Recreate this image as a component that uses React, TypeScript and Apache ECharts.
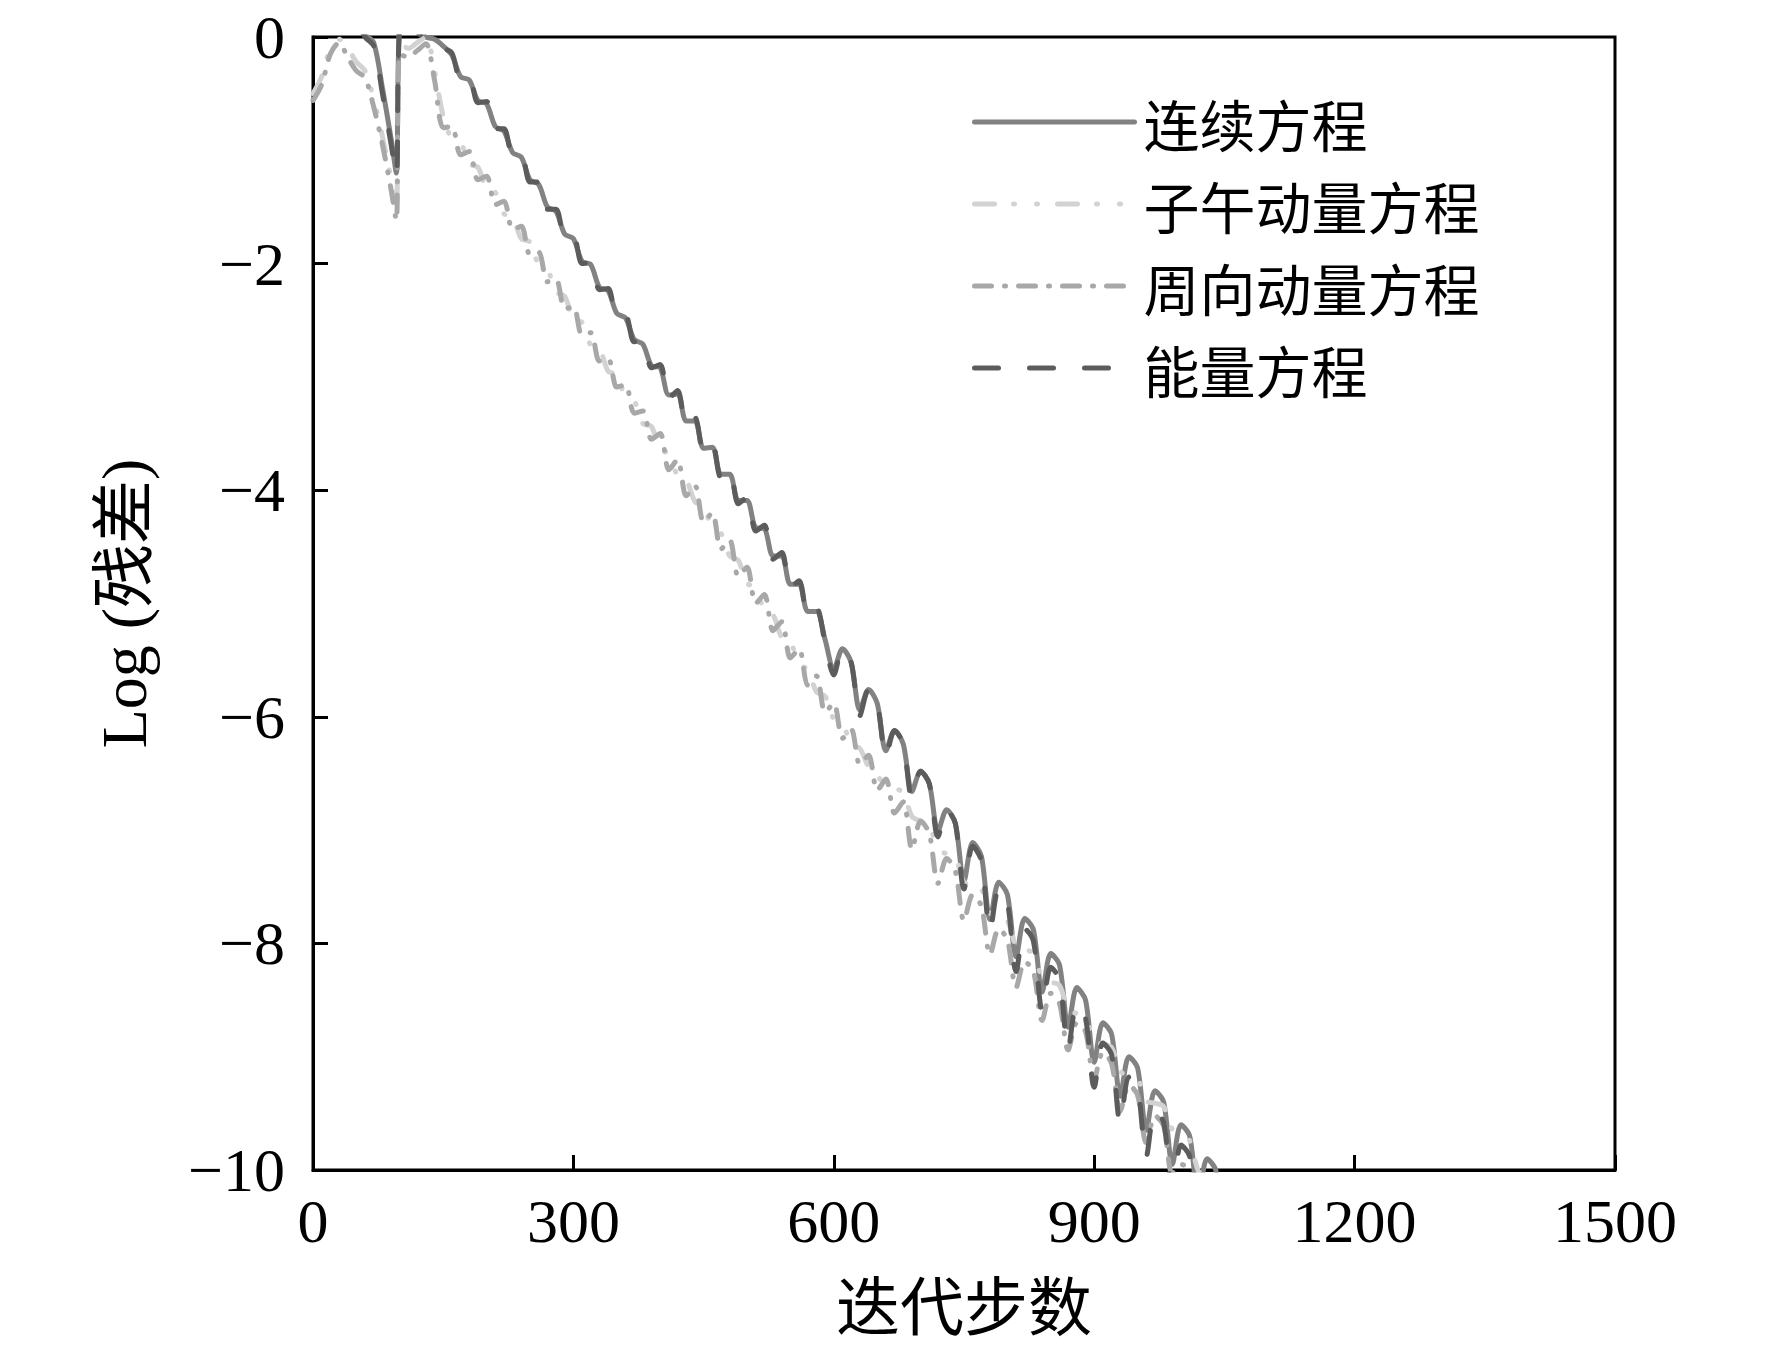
import React, { useEffect, useRef } from "react";
import * as echarts from "echarts";

const NAMES = ["连续方程", "子午动量方程", "周向动量方程", "能量方程"];
const COLORS = ["#828282", "#d2d2d2", "#a8a8a8", "#5c5c5c"];
const X_TICKS_MAX = 1500;

const ITER = [
  0, 10, 20, 30, 40, 50, 60, 70, 80, 90, 96,
  100, 110, 120, 130, 140, 150,
  160, 170, 180, 190, 200, 210, 220, 230, 240, 250,
  260, 270, 280, 290, 300, 310, 320, 330, 340, 350,
  360, 370, 380, 390, 400, 410, 420, 430, 440, 450,
  460, 470, 480, 490, 500, 510, 520, 530, 540, 550,
  560, 570, 580, 590, 600, 610, 620, 630, 640, 650,
  660, 670, 680, 690, 700, 710, 720, 730, 740, 750,
  760, 770, 780, 790, 800, 810, 820, 830, 840, 850,
  860, 870, 880, 890, 900, 910, 920, 930, 940, 950,
  960, 970, 980, 990, 1000, 1010, 1020, 1030, 1040, 1050,
  1060,
];

const CONT = [
  0.3, 0.05, 0.25, 0.35, 0.3, 0.15, 0.02, -0.05, -0.45, -0.9, -1.2,
  0.15, 0.3, 0.1, 0.0, -0.02, -0.08,
  -0.16, -0.35, -0.38, -0.56, -0.59, -0.79, -0.83, -1.02, -1.06, -1.26,
  -1.3, -1.5, -1.54, -1.74, -1.78, -1.98, -2.01, -2.21, -2.24, -2.44,
  -2.48, -2.67, -2.71, -2.9, -2.92, -3.16, -3.15, -3.39, -3.39, -3.63,
  -3.62, -3.86, -3.86, -4.09, -4.09, -4.33, -4.34, -4.58, -4.58, -4.83,
  -4.83, -5.07, -5.07, -5.32, -5.58, -5.4, -5.52, -5.94, -5.76, -5.88,
  -6.3, -6.12, -6.24, -6.66, -6.48, -6.59, -7.01, -6.82, -6.94, -7.45,
  -7.11, -7.23, -7.79, -7.46, -7.57, -8.12, -7.78, -7.88, -8.43, -8.09,
  -8.19, -8.74, -8.39, -8.5, -9.05, -8.7, -8.8, -9.35, -9.0, -9.1,
  -9.65, -9.3, -9.4, -9.95, -9.6, -9.7, -10.25, -9.9, -10.0, -10.55,
  -10.45,
];

const MERID = [
  -0.5, -0.35, -0.1, -0.02, -0.1, -0.22, -0.3, -0.55, -0.88, -1.25, -1.5,
  -0.05, -0.1, -0.05, 0.0, -0.3, -0.7,
  -0.9, -0.93, -1.12, -1.15, -1.34, -1.37, -1.56, -1.59, -1.78, -1.81,
  -2.01, -2.05, -2.25, -2.29, -2.49, -2.52, -2.72, -2.75, -2.95, -2.98,
  -3.18, -3.21, -3.41, -3.44, -3.64, -3.68, -3.87, -3.91, -4.1, -4.14,
  -4.34, -4.38, -4.58, -4.62, -4.82, -4.86, -5.06, -5.1, -5.3, -5.34,
  -5.54, -5.58, -5.78, -5.82, -6.02, -6.05, -6.25, -6.28, -6.44, -6.52,
  -6.61, -6.63, -6.67, -6.88, -6.92, -6.96, -7.17, -7.21, -7.24, -7.46,
  -7.49, -7.52, -7.73, -7.77, -7.8, -8.02, -8.05, -8.09, -8.3, -8.34,
  -8.37, -8.58, -8.62, -8.65, -8.86, -8.89, -8.92, -9.13, -9.16, -9.19,
  -9.39, -9.41, -9.44, -9.64, -9.66, -9.74, -10.01, -10.08, -10.14, -10.36,
  -10.4,
];

const CIRC = [
  -0.56, -0.42, -0.15, -0.05, -0.18, -0.3, -0.36, -0.62, -0.95, -1.35, -1.62,
  -0.15, -0.18, -0.12, -0.06, -0.38, -0.8,
  -0.79, -1.04, -1.01, -1.26, -1.23, -1.48, -1.45, -1.7, -1.67, -1.92,
  -1.9, -2.16, -2.14, -2.4, -2.38, -2.63, -2.61, -2.86, -2.84, -3.09,
  -3.07, -3.32, -3.3, -3.55, -3.5, -3.82, -3.73, -4.05, -3.96, -4.28,
  -4.2, -4.52, -4.44, -4.76, -4.68, -5.0, -4.92, -5.24, -5.16, -5.48,
  -5.4, -5.72, -5.64, -5.96, -5.88, -6.19, -6.11, -6.42, -6.34, -6.65,
  -6.55, -6.85, -6.75, -7.17, -6.92, -7.03, -7.47, -7.25, -7.36, -7.8,
  -7.57, -7.67, -8.1, -7.87, -7.97, -8.39, -8.16, -8.25, -8.68, -8.44,
  -8.53, -8.94, -8.7, -8.78, -9.2, -8.96, -9.06, -9.48, -9.25, -9.34,
  -9.76, -9.52, -9.61, -10.03, -9.95, -10.0, -10.4, -10.4, -10.4, -10.6,
  -10.6,
];

const ENERGY = [
  0.35, 0.1, 0.3, 0.4, 0.3, 0.15, 0.0, -0.08, -0.5, -0.95, -1.22,
  0.1, 0.25, 0.05, -0.02, -0.05, -0.1,
  -0.14, -0.37, -0.36, -0.58, -0.57, -0.81, -0.81, -1.04, -1.04, -1.28,
  -1.28, -1.52, -1.52, -1.76, -1.76, -2.0, -1.99, -2.23, -2.22, -2.46,
  -2.46, -2.69, -2.69, -2.92, -2.89, -3.19, -3.12, -3.42, -3.36, -3.66,
  -3.59, -3.89, -3.83, -4.12, -4.06, -4.36, -4.31, -4.61, -4.55, -4.86,
  -4.8, -5.1, -5.04, -5.35, -5.63, -5.4, -5.52, -5.99, -5.76, -5.88,
  -6.35, -6.12, -6.24, -6.71, -6.48, -6.59, -7.06, -6.82, -6.94, -7.52,
  -7.14, -7.27, -7.89, -7.52, -7.64, -8.25, -7.87, -7.98, -8.59, -8.21,
  -8.32, -8.93, -8.54, -8.66, -9.27, -8.88, -8.98, -9.58, -9.18, -9.28,
  -9.88, -9.48, -9.58, -10.18, -9.78, -9.88, -10.48, -10.08, -10.18, -10.73,
  -10.63,
];

const SERIES_VALUES = [CONT, MERID, CIRC, ENERGY];
const DASHES: (string | number[])[] = ["solid", [20, 19, 1, 22, 1, 20], [17, 13, 1, 13], [24, 31]];

const SERIF = "'Liberation Serif', 'Noto Sans CJK SC', serif";
const CJK = "'Noto Sans CJK SC', 'Liberation Serif', sans-serif";

export default function App() {
  const ref = useRef<HTMLDivElement>(null);
  useEffect(() => {
    document.body.style.margin = "0";
    const chart = echarts.init(ref.current!, null, { renderer: "svg" });
    const series = NAMES.map((name, k) => ({
      name,
      type: "line",
      data: ITER.map((x, i) => [x, SERIES_VALUES[k][i]]),
      symbol: "none",
      showSymbol: false,
      smooth: 0.3,
      clip: true,
      lineStyle: { color: COLORS[k], width: 5, type: DASHES[k], cap: "round", join: "round" },
      itemStyle: { color: COLORS[k] },
      z: 2 + k,
    }));
    chart.setOption({
      animation: false,
      backgroundColor: "#ffffff",
      grid: {
        left: 313,
        right: 157,
        top: 37,
        bottom: 179,
        show: true,
        borderColor: "#000",
        borderWidth: 3,
        backgroundColor: "transparent",
      },
      legend: {
        orient: "vertical",
        left: 967,
        top: 89,
        itemWidth: 160,
        itemHeight: 20,
        itemGap: 26,
        data: NAMES,
        itemStyle: { opacity: 0, borderWidth: 0 },
        lineStyle: { width: 5 },
        textStyle: {
          fontSize: 56,
          fontFamily: CJK,
          color: "#000",
          lineHeight: 56,
          padding: [0, 0, 0, 4],
        },
      },
      xAxis: {
        type: "value",
        min: 0,
        max: X_TICKS_MAX,
        interval: 300,
        name: "迭代步数",
        nameLocation: "middle",
        nameGap: 100,
        nameTextStyle: { fontSize: 64, fontFamily: CJK, color: "#000" },
        axisLine: { show: true, onZero: false, lineStyle: { color: "#000", width: 3 } },
        axisTick: { show: true, inside: true, length: 15, lineStyle: { color: "#000", width: 3 } },
        axisLabel: {
          fontSize: 62,
          fontFamily: SERIF,
          color: "#000",
          margin: 20,
          formatter: (v: number) => String(v),
        },
        splitLine: { show: false },
      },
      yAxis: {
        type: "value",
        min: -10,
        max: 0,
        interval: 2,
        name: "Log (残差)",
        nameLocation: "middle",
        nameGap: 157,
        nameRotate: 90,
        nameTextStyle: { fontSize: 64, fontFamily: SERIF, color: "#000" },
        axisLine: { show: true, onZero: false, lineStyle: { color: "#000", width: 3 } },
        axisTick: { show: true, inside: true, length: 15, lineStyle: { color: "#000", width: 3 } },
        axisLabel: {
          fontSize: 62,
          fontFamily: SERIF,
          color: "#000",
          margin: 28,
          formatter: (v: number) => (v < 0 ? "\u2212" + String(-v) : String(v)),
        },
        splitLine: { show: false },
      },
      series,
    });
    return () => chart.dispose();
  }, []);
  return <div ref={ref} style={{ width: 1772, height: 1349 }} />;
}
